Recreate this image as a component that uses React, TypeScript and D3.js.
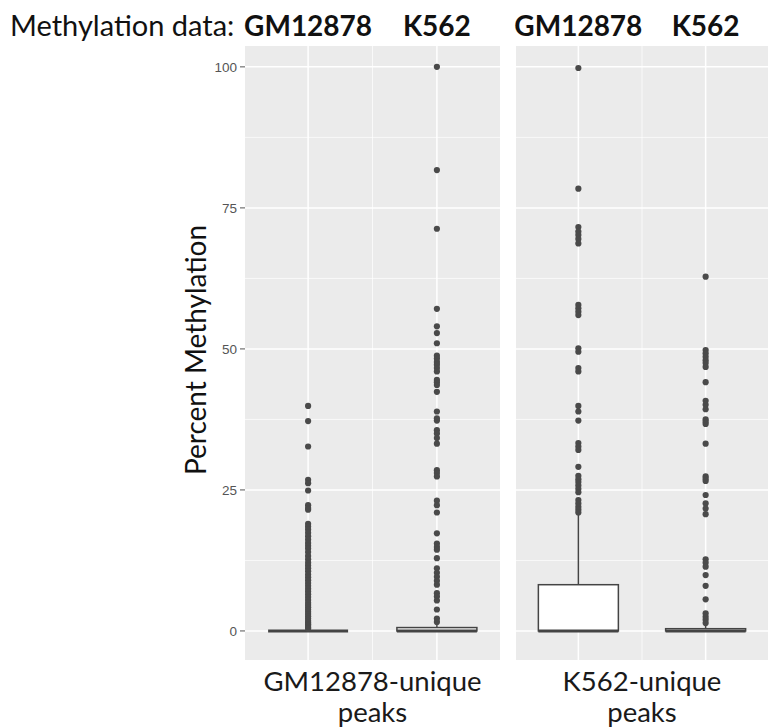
import React from 'react';
import * as d3 from 'd3';

// facets (peak sets) and the methylation dataset inside each facet
const panels = ['GM12878-unique', 'K562-unique'];
const methylation = ['GM12878', 'K562'];
const yTicks = [0, 25, 50, 75, 100];

// box statistics, indexed [panel][methylation]
const q1 = [[0, 0], [0, 0]];
const median = [[0, 0], [0, 0]];
const q3 = [[0, 0.6], [8.2, 0.4]];
const whiskerHi = [[0, 1.1], [20.6, 1.0]];

// outliers
const outGmGm = [39.9, 37.2, 32.7, 26.8, 26.2, 24.9, 22.3, 21.8, 21.5, 19.0, 18.5, 18.0, 17.4,
  16.8, 16.2, 15.6, 15.1, 14.6, 14.0, 13.3, 12.7, 12.1, 11.6, 11.1, 10.6, 10.0, 9.5, 9.0, 8.5,
  8.0, 7.5, 7.0, 6.5, 6.0, 5.5, 5.0, 4.6, 4.2, 3.8, 3.4, 3.0, 2.6, 2.2, 1.8, 1.5, 1.2, 0.9, 0.6, 0.4];
const outGmK = [100, 81.7, 71.3, 57.1, 54.0, 52.8, 51.0, 48.8, 48.3, 47.7, 47.2, 46.6, 46.0, 44.5,
  44.1, 43.6, 42.4, 38.9, 37.7, 37.3, 35.6, 35.0, 34.2, 33.2, 28.5, 28.0, 27.4, 23.1, 22.3, 21.0,
  17.3, 15.5, 14.9, 14.4, 12.9, 11.1, 10.3, 9.6, 8.9, 8.2, 6.7, 6.1, 5.4, 3.8, 2.2, 1.6];
const outKGm = [99.8, 78.4, 71.6, 70.8, 70.2, 69.5, 68.7, 57.8, 57.2, 56.6, 56.0, 50.1, 49.5, 46.6,
  46.0, 39.9, 38.9, 37.3, 33.3, 32.7, 32.1, 29.1, 27.5, 26.9, 26.4, 25.8, 25.2, 24.6, 23.2, 22.6,
  22.0, 21.5, 21.0];
const outKK = [62.8, 49.8, 49.2, 48.6, 48.0, 47.5, 46.8, 44.1, 40.8, 40.1, 39.3, 37.5, 37.1, 36.7,
  33.2, 27.4, 27.0, 26.6, 24.1, 22.6, 21.7, 20.7, 12.7, 12.1, 11.4, 9.9, 8.0, 5.6, 3.1, 2.5, 2.0, 1.4];
const outliers = [[outGmGm, outGmK], [outKGm, outKK]];

const W = 768;
const H = 727;
const top = 46;
const bottom = 660;
const panelX: [number, number][] = [[245, 500], [516, 768]];
const boxW = 80;
const font = "Lato, 'Open Sans', sans-serif";

export default function App() {
  const y = d3.scaleLinear().domain([-5.15, 103.7]).range([bottom, top]);
  const minor = d3.range(0, 4).map(i => yTicks[i] + 12.5);

  return (
    <svg width={W} height={H} style={{ position: 'absolute', left: 0, top: 0, background: '#fff' }}>
      {/* header */}
      <text x={10} y={36} fontFamily={font} fontSize={29} fill="#111">Methylation data:</text>
      {panels.map((p, pi) => {
        const x = d3.scalePoint<string>().domain(methylation).range(panelX[pi]).padding(0.49);
        const [x0, x1] = panelX[pi];
        const xs = methylation.map(m => x(m) as number);
        return (
          <g key={p}>
            {methylation.map((m, mi) => (
              <text key={m} x={xs[mi]} y={36} textAnchor="middle" fontWeight="bold"
                fontFamily={font} fontSize={28} fill="#111">{m}</text>
            ))}
            <rect x={x0} y={top} width={x1 - x0} height={bottom - top} fill="#EBEBEB" />
            {minor.map(v => (
              <line key={'mn' + v} x1={x0} x2={x1} y1={y(v)} y2={y(v)} stroke="#fff" strokeWidth={0.7} />
            ))}
            <line x1={(xs[0] + xs[1]) / 2} x2={(xs[0] + xs[1]) / 2} y1={top} y2={bottom} stroke="#fff" strokeWidth={0.7} />
            {yTicks.map(v => (
              <line key={'mj' + v} x1={x0} x2={x1} y1={y(v)} y2={y(v)} stroke="#fff" strokeWidth={1.5} />
            ))}
            {xs.map((cx, i) => (
              <line key={'vx' + i} x1={cx} x2={cx} y1={top} y2={bottom} stroke="#fff" strokeWidth={1.5} />
            ))}
            {methylation.map((m, mi) => {
              const cx = xs[mi];
              return (
                <g key={m}>
                  <line x1={cx} x2={cx} y1={y(q3[pi][mi])} y2={y(whiskerHi[pi][mi])} stroke="#444" strokeWidth={1.5} />
                  <rect x={cx - boxW / 2} width={boxW} y={y(q3[pi][mi])}
                    height={Math.max(0, y(q1[pi][mi]) - y(q3[pi][mi]))}
                    fill="#fff" stroke="#444" strokeWidth={1.5} />
                  <line x1={cx - boxW / 2} x2={cx + boxW / 2} y1={y(median[pi][mi])} y2={y(median[pi][mi])}
                    stroke="#444" strokeWidth={3} />
                  {outliers[pi][mi].map((v, k) => (
                    <circle key={k} cx={cx} cy={y(v)} r={3.1} fill="#4a4a4a" />
                  ))}
                </g>
              );
            })}
            <text x={(x0 + x1) / 2} y={691} textAnchor="middle" fontFamily={font}
              fontSize={27.5} fill="#1a1a1a">{p}</text>
            <text x={(x0 + x1) / 2} y={722} textAnchor="middle" fontFamily={font}
              fontSize={27.5} fill="#1a1a1a">peaks</text>
          </g>
        );
      })}
      {/* y axis */}
      <g fontFamily="'Liberation Sans', Arial, sans-serif" fontSize={13.5} fill="#555">
        {yTicks.map(v => (
          <g key={v}>
            <line x1={240} x2={245} y1={y(v)} y2={y(v)} stroke="#555" strokeWidth={1} />
            <text x={237} y={y(v)} dy="0.35em" textAnchor="end">{v}</text>
          </g>
        ))}
      </g>
      <text transform={`translate(206,350) rotate(-90)`} textAnchor="middle"
        fontFamily={font} fontSize={28} fill="#111">Percent Methylation</text>
    </svg>
  );
}
